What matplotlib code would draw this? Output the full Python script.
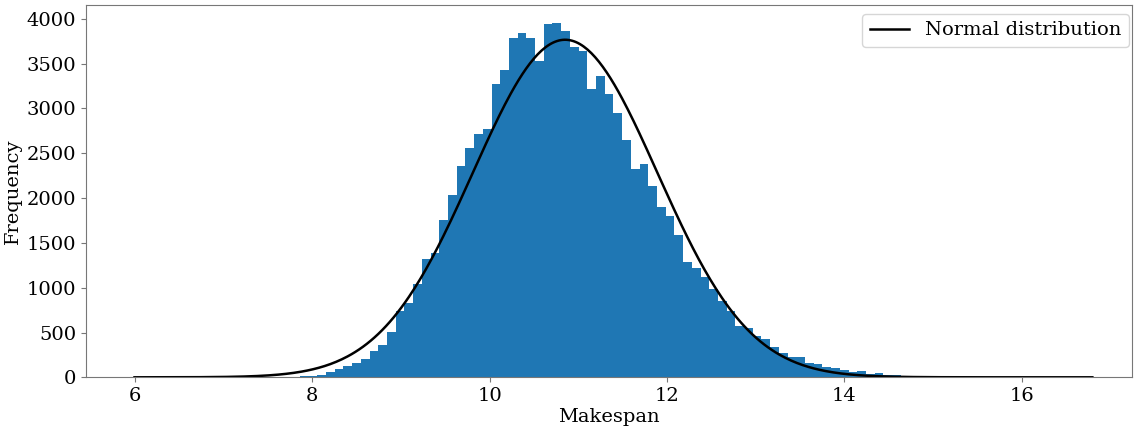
import matplotlib.pyplot as plt
import numpy as np

plt.rcParams['font.family'] = ['DejaVu Serif']
plt.rcParams['font.size'] = 14

# makespan histogram: 110 equal-width bins between the min and max makespan
makespan_min = 5.994
makespan_max = 16.796
n_bins = 110

counts = [
    1, 0, 0, 0, 0, 0, 0, 0, 0, 1,
    0, 1, 1, 2, 2, 3, 4, 5, 7, 10,
    15, 25, 62, 89, 123, 163, 200, 293, 356, 505,
    739, 824, 1036, 1322, 1385, 1760, 2039, 2358, 2562, 2718,
    2774, 3268, 3424, 3788, 3844, 3788, 3528, 3944, 3955, 3870,
    3691, 3647, 3220, 3357, 3157, 2948, 2652, 2321, 2377, 2135,
    1901, 1801, 1586, 1285, 1222, 1118, 988, 850, 742, 575,
    545, 460, 427, 341, 267, 230, 230, 156, 148, 111,
    107, 81, 59, 67, 37, 48, 26, 26, 19, 17,
    10, 10, 5, 5, 4, 3, 2, 2, 1, 1,
    1, 1, 0, 1, 0, 0, 1, 0, 0, 1,
]

# fitted normal distribution parameters
mu = 10.85
sigma = 1.04
n_samples = 100000

edges = np.linspace(makespan_min, makespan_max, n_bins + 1)
centers = (edges[:-1] + edges[1:]) / 2
bin_width = edges[1] - edges[0]

x = np.linspace(makespan_min, makespan_max, 500)
pdf = np.exp(-0.5 * ((x - mu) / sigma) ** 2) / (sigma * np.sqrt(2 * np.pi))
scaled_pdf = pdf * n_samples * bin_width

fig = plt.figure(figsize=(11.34, 4.32), dpi=100)
ax = fig.add_axes([0.0756, 0.1266, 0.9224, 0.8614])

ax.hist(centers, bins=edges, weights=counts, color='#1f77b4')
ax.plot(x, scaled_pdf, color='black', linewidth=1.8, label='Normal distribution')

ax.set_xlim(5.444, 17.24)
ax.set_xticks([6, 8, 10, 12, 14, 16])
ax.set_yticks(np.arange(0, 4001, 500))
ax.set_xlabel('Makespan', labelpad=2)
ax.set_ylabel('Frequency', labelpad=3)
ax.legend(loc='upper right', bbox_to_anchor=(1.0, 0.985), borderaxespad=0.15)

for spine in ax.spines.values():
    spine.set_color('#777777')
ax.tick_params(color='#777777')

fig.savefig('out.png', dpi=100)
